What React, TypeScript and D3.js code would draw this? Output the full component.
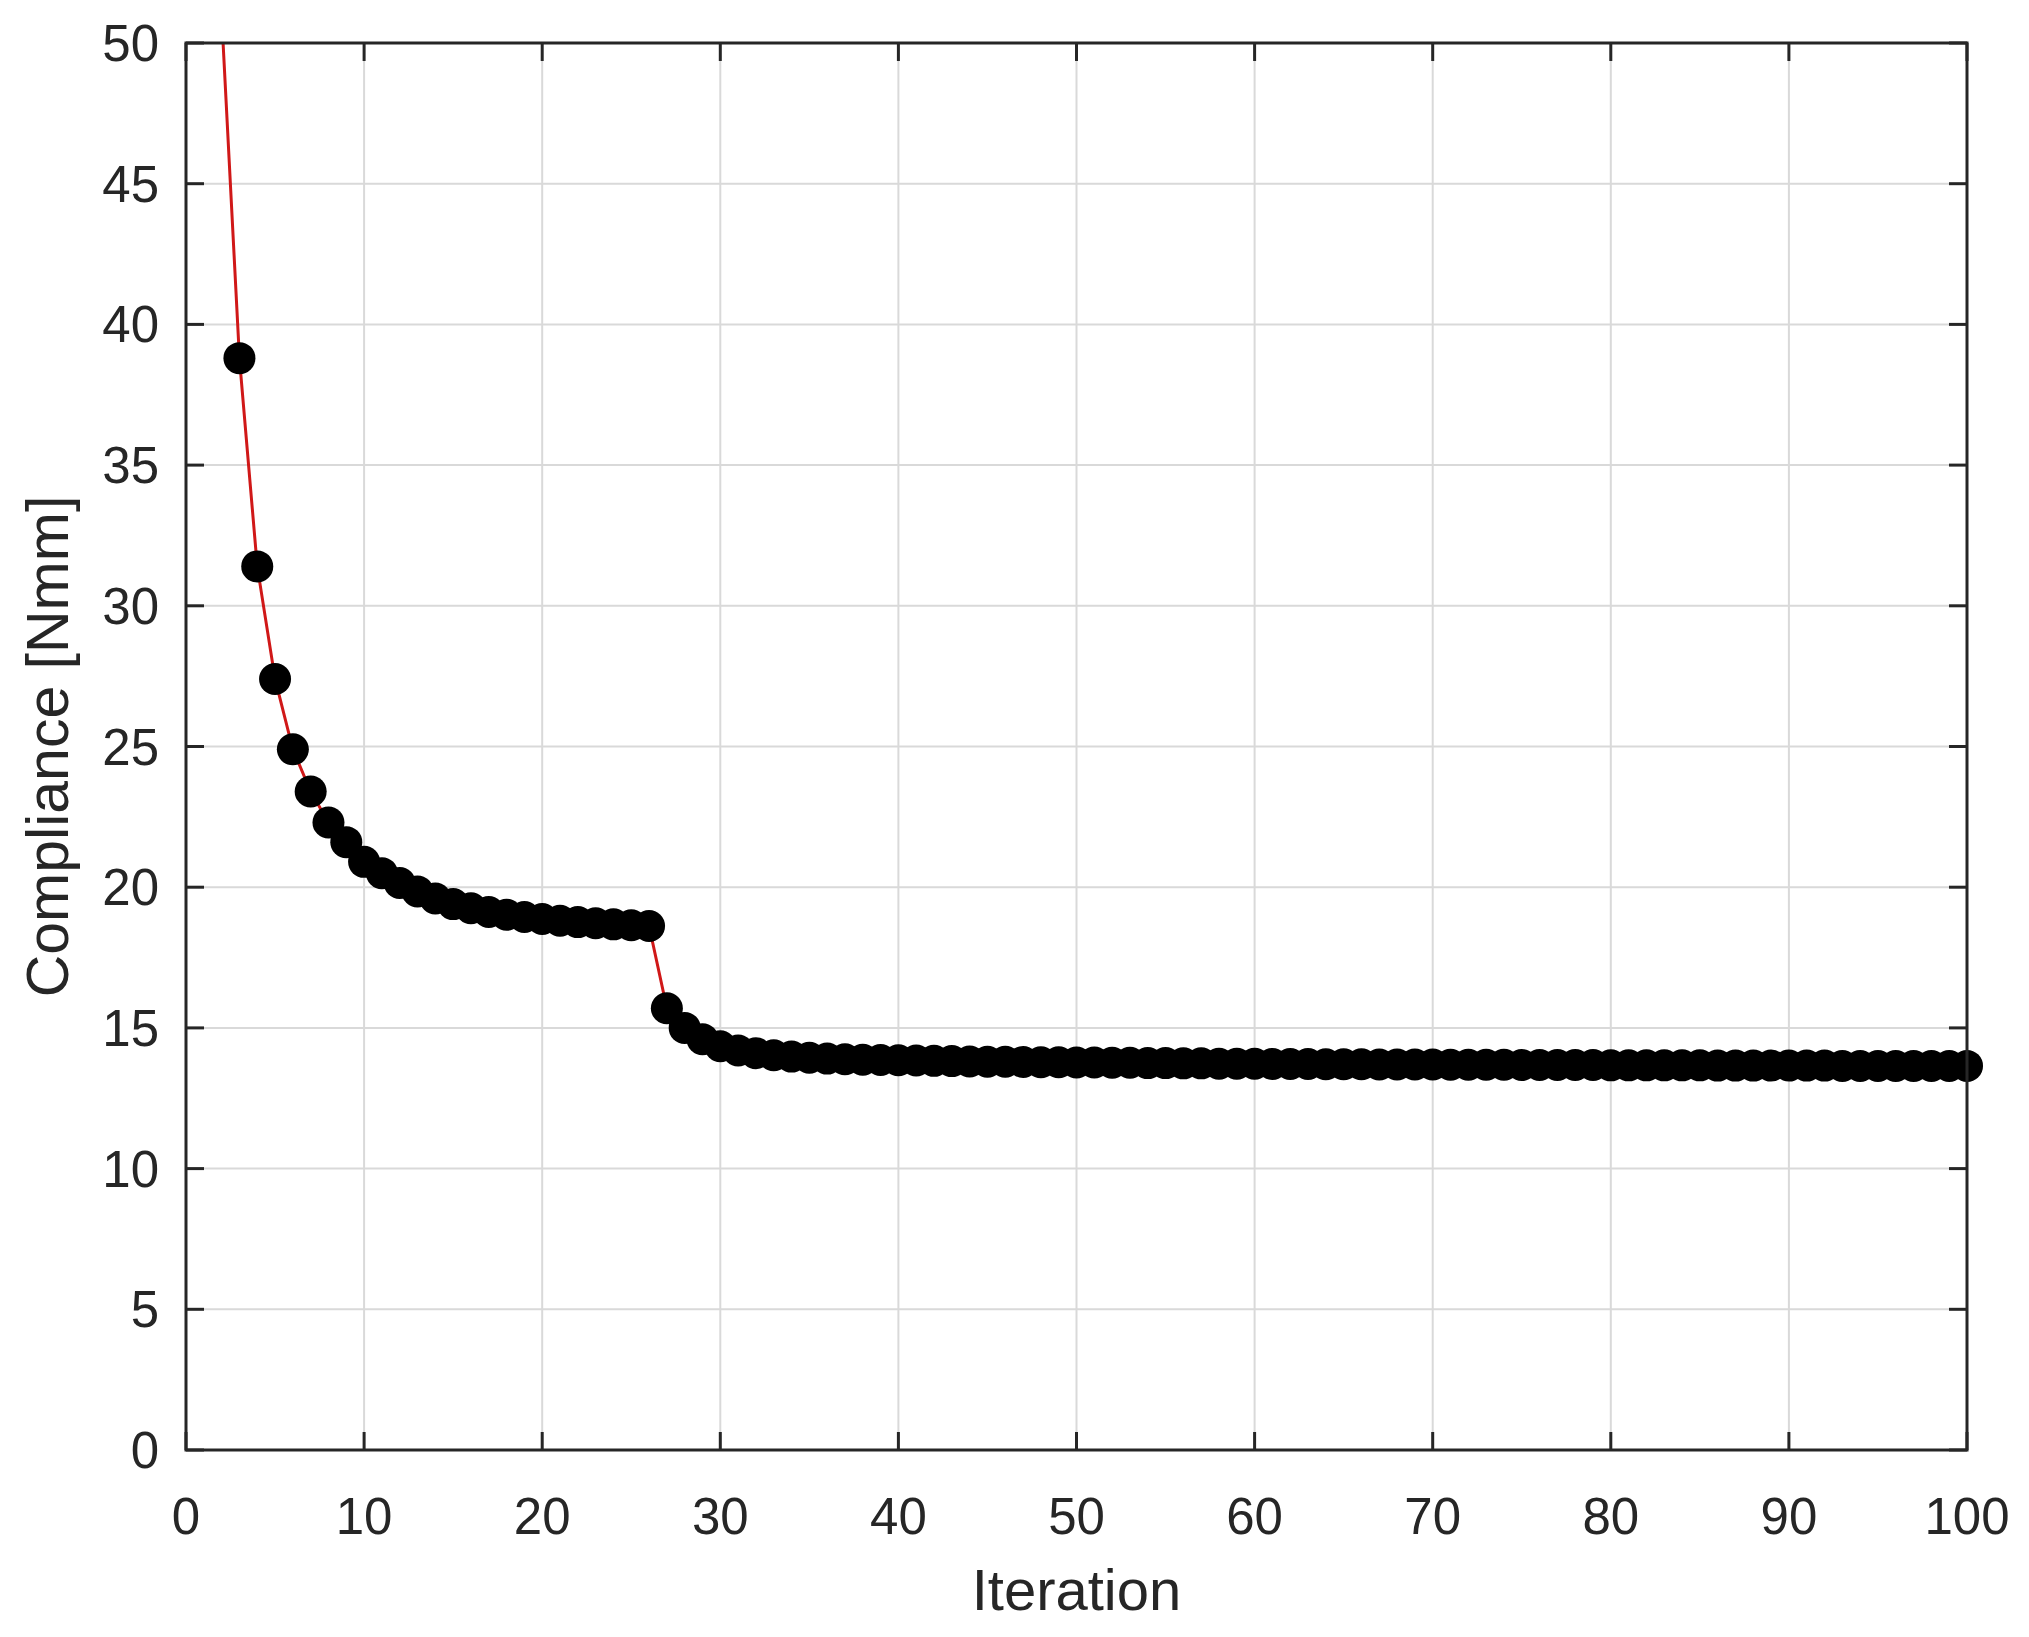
import React from "react";
import * as d3 from "d3";

// compliance per iteration (1..100); first two points lie above the visible range
const iterations = d3.range(1, 101);
const compliance = [
  95.0, 51.0, 38.8, 31.4, 27.4, 24.9, 23.4, 22.3, 21.6, 20.9,
  20.5, 20.15, 19.85, 19.6, 19.4, 19.25, 19.12, 19.02, 18.94, 18.87,
  18.81, 18.76, 18.72, 18.68, 18.65, 18.62, 15.7, 15.0, 14.6, 14.35,
  14.2, 14.1, 14.03, 13.98, 13.94, 13.91, 13.89, 13.87, 13.86, 13.85,
  13.84, 13.83, 13.82, 13.81, 13.8, 13.8, 13.79, 13.78, 13.78, 13.77,
  13.77, 13.76, 13.76, 13.75, 13.75, 13.74, 13.74, 13.73, 13.73, 13.73,
  13.72, 13.72, 13.72, 13.71, 13.71, 13.71, 13.7, 13.7, 13.7, 13.7,
  13.69, 13.69, 13.69, 13.69, 13.68, 13.68, 13.68, 13.68, 13.68, 13.67,
  13.67, 13.67, 13.67, 13.67, 13.67, 13.66, 13.66, 13.66, 13.66, 13.66,
  13.66, 13.66, 13.65, 13.65, 13.65, 13.65, 13.65, 13.65, 13.65, 13.65,
];
const xTicks = [0, 10, 20, 30, 40, 50, 60, 70, 80, 90, 100];
const yTicks = [0, 5, 10, 15, 20, 25, 30, 35, 40, 45, 50];

const W = 2029, H = 1637;
const left = 186, right = 1967, top = 43, bottom = 1450;
const font = "'Liberation Sans', Arial, Helvetica, sans-serif";
const ink = "#262626";

export default function App() {
  const x = d3.scaleLinear().domain([0, 100]).range([left, right]);
  const y = d3.scaleLinear().domain([0, 50]).range([bottom, top]);

  const pts = iterations.map((it, i) => ({ it, v: compliance[i] }));
  const line = d3.line<{ it: number; v: number }>().x(d => x(d.it)).y(d => y(d.v));
  const visible = pts.filter(d => d.v <= 50 && d.v >= 0);
  const tick = 18;

  return (
    <svg width={W} height={H} style={{ position: "absolute", left: 0, top: 0, background: "#fff" }}>
      <defs>
        <clipPath id="plot">
          <rect x={left} y={top} width={right - left} height={bottom - top} />
        </clipPath>
      </defs>
      <rect width={W} height={H} fill="#fff" />

      {/* grid */}
      <g stroke="#d9d9d9" strokeWidth={2}>
        {xTicks.slice(1, -1).map(t => (
          <line key={"gx" + t} x1={x(t)} x2={x(t)} y1={top} y2={bottom} />
        ))}
        {yTicks.slice(1, -1).map(t => (
          <line key={"gy" + t} x1={left} x2={right} y1={y(t)} y2={y(t)} />
        ))}
      </g>

      {/* data */}
      <path d={line(pts) || ""} fill="none" stroke="#d01818" strokeWidth={3} clipPath="url(#plot)" />
      <g fill="#000">
        {visible.map(d => (
          <circle key={d.it} cx={x(d.it)} cy={y(d.v)} r={16} />
        ))}
      </g>

      {/* box and inward ticks */}
      <g stroke={ink} strokeWidth={3} fill="none">
        <rect x={left} y={top} width={right - left} height={bottom - top} />
        {xTicks.map(t => (
          <g key={"tx" + t}>
            <line x1={x(t)} x2={x(t)} y1={bottom} y2={bottom - tick} />
            <line x1={x(t)} x2={x(t)} y1={top} y2={top + tick} />
          </g>
        ))}
        {yTicks.map(t => (
          <g key={"ty" + t}>
            <line x1={left} x2={left + tick} y1={y(t)} y2={y(t)} />
            <line x1={right} x2={right - tick} y1={y(t)} y2={y(t)} />
          </g>
        ))}
      </g>

      {/* tick labels */}
      <g fill={ink} fontFamily={font} fontSize={51}>
        {xTicks.map(t => (
          <text key={"lx" + t} x={x(t)} y={1534} textAnchor="middle">{t}</text>
        ))}
        {yTicks.map(t => (
          <text key={"ly" + t} x={159} y={y(t) + 18} textAnchor="end">{t}</text>
        ))}
      </g>

      {/* axis labels */}
      <text x={(left + right) / 2} y={1610} textAnchor="middle" fontFamily={font} fontSize={58} fill={ink}>
        Iteration
      </text>
      <text
        transform={`translate(68, ${(top + bottom) / 2}) rotate(-90)`}
        textAnchor="middle"
        fontFamily={font}
        fontSize={59}
        fill={ink}
      >
        Compliance [Nmm]
      </text>
    </svg>
  );
}
